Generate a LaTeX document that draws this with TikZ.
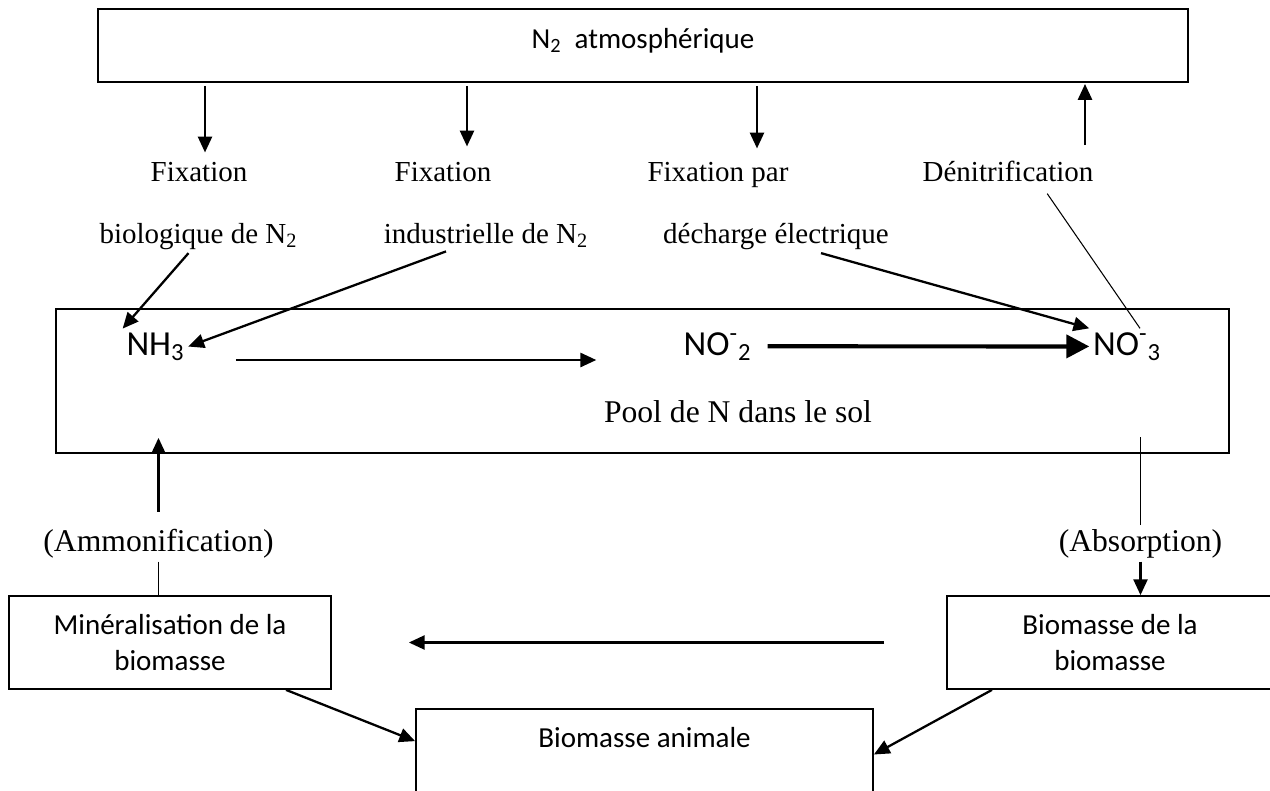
\documentclass[tikz,border=0pt]{standalone}
\usepackage{fontspec}
\setmainfont{Liberation Serif}
\setsansfont{Carlito}
\usepackage{tikz}
\usetikzlibrary{arrows.meta,positioning,calc}

\begin{document}
\begin{tikzpicture}[
  boite/.style={rectangle,draw=black,line width=1pt,inner sep=2pt,align=center,
                font=\sffamily\fontsize{16.5}{20.5}\selectfont},
  etiq/.style={inner sep=2pt,anchor=base,font=\fontsize{16.5}{20}\selectfont},
  etiqG/.style={inner sep=2pt,anchor=base,font=\fontsize{18}{22}\selectfont},
  chimie/.style={inner sep=2pt,anchor=base,font=\sffamily\fontsize{20}{24}\selectfont},
  fleche/.style={-{Triangle[length=9pt,width=8pt]},line width=1.3pt},
  grosse/.style={-{Triangle[length=13pt,width=13pt]},line width=2.4pt},
  trait/.style={line width=0.6pt}]

  \useasboundingbox (0,0) rectangle (25.4,-15.82);

  \node[boite,minimum width=21.8cm,minimum height=1.46cm,text depth=0.3cm] (ATM) at (12.86,-0.91)
    {N\textsubscript{2}\ \ atmosphérique};

  \node[etiq] (FB1) at (3.98,-3.64) {Fixation};
  \node[etiq] (FB2) at (3.97,-4.86) {biologique de N\textsubscript{2}};
  \node[etiq] (FI1) at (8.86,-3.64) {Fixation};
  \node[etiq] (FI2) at (9.72,-4.86) {industrielle de N\textsubscript{2}};
  \node[etiq] (FE1) at (14.36,-3.64) {Fixation par};
  \node[etiq] (FE2) at (15.52,-4.86) {décharge électrique};
  \node[etiq] (DEN) at (20.16,-3.64) {Dénitrification};

  \coordinate (D1) at (4.1,-1.72);
  \coordinate (D2) at (9.34,-1.72);
  \coordinate (D3) at (15.14,-1.72);
  \coordinate (D4) at (21.7,-1.68);
  \draw[fleche,shorten >=0.13cm] (D1) -- (D1 |- FB1.north);
  \draw[fleche,shorten >=0.25cm] (D2) -- (D2 |- FI1.north);
  \draw[fleche,shorten >=0.21cm] (D3) -- (D3 |- FE1.north);
  \draw[fleche,shorten <=0.25cm] (D4 |- DEN.north) -- (D4);

  \node[boite,minimum width=23.46cm,minimum height=2.88cm] (SOL) at (12.85,-7.62) {};
  \node[chimie] (NH3) at (3.11,-7.1) {NH\textsubscript{3}};
  \node[chimie] (NO2) at (14.35,-7.1) {NO\textsuperscript{-}\textsubscript{2}};
  \node[chimie] (NO3) at (22.54,-7.1) {NO\textsuperscript{-}\textsubscript{3}};
  \node[etiqG] (POOL) at (14.76,-8.44) {Pool de N dans le sol};

  \draw[fleche] ([xshift=-0.2cm]FB2.south) -- (NH3.north west);
  \draw[fleche] ([xshift=-0.8cm]FI2.south) -- (NH3.east);
  \draw[fleche] ([xshift=0.9cm]FE2.south) -- (NO3.north west);
  \draw[trait] ([xshift=-1cm,yshift=-0.15cm]DEN.south east) -- ([xshift=0.26cm]NO3.north);

  \draw[fleche,shorten <=0.95cm,shorten >=1.67cm] ([yshift=-0.1cm]NH3.base east) -- ([yshift=-0.1cm]NO2.base west);
  \draw[grosse,shorten <=0.25cm] (NO2.east) -- (NO3.west);

  \node[etiqG] (AMM) at (3.17,-11.02) {(Ammonification)};
  \node[etiqG] (ABS) at (22.81,-11.02) {(Absorption)};

  \node[boite,minimum width=6.44cm,minimum height=1.86cm] (MIN) at (3.4,-12.85)
    {Minéralisation de la\\biomasse};
  \node[boite,minimum width=6.52cm,minimum height=1.86cm] (BIOV) at (22.2,-12.85)
    {Biomasse de la\\biomasse};
  \node[boite,minimum width=9.14cm,minimum height=1.82cm,text depth=0.7cm] (ANIM) at (12.89,-15.09)
    {Biomasse animale};

  \draw[fleche,shorten <=0.26cm,shorten >=-0.32cm] (AMM.north) -- (AMM.north |- SOL.south);
  \draw[trait] (AMM.south) -- (AMM.south |- MIN.north);
  \draw[trait,shorten >=-0.34cm] (ABS.north) -- (ABS.north |- SOL.south);
  \draw[fleche] (ABS.south) -- (ABS.south |- BIOV.north);

  \draw[fleche,shorten <=1.24cm,shorten >=1.54cm] (BIOV.west) -- (MIN.east);
  \draw[fleche] ([xshift=2.32cm]MIN.south) -- ([yshift=-0.66cm]ANIM.north west);
  \draw[fleche] ([xshift=-2.36cm]BIOV.south) -- (ANIM.east);
\end{tikzpicture}
\end{document}
